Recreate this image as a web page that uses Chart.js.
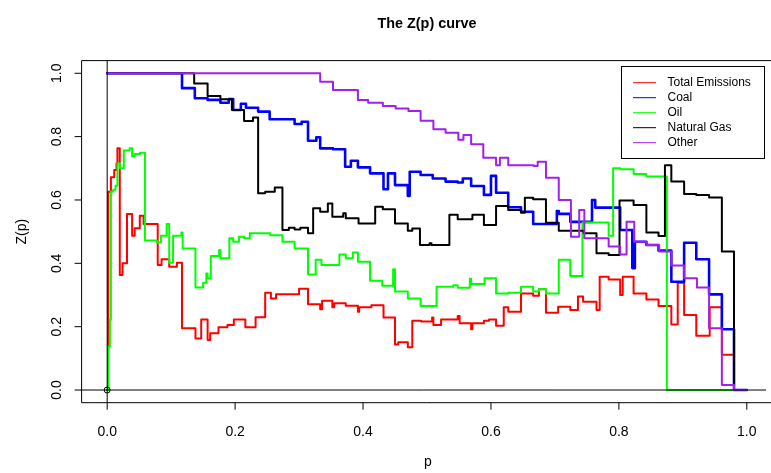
<!DOCTYPE html>
<html>
<head>
<meta charset="utf-8">
<title>The Z(p) curve</title>
<script src="https://cdn.jsdelivr.net/npm/chart.js@4/dist/chart.umd.min.js"></script>
<style>
  html, body { margin: 0; padding: 0; background: #fff; }
  #chart { display: block; }
</style>
</head>
<body>
<canvas id="chart" width="771" height="473"></canvas>
<script>
// Step curves: p where a step starts, Z(p) from there on
const seriesNames = ['Total Emissions', 'Coal', 'Oil', 'Natural Gas', 'Other'];

const totalP = [0, 0.0016, 0.0058, 0.011, 0.0146, 0.016, 0.0197, 0.024, 0.031, 0.039, 0.043, 0.051, 0.057, 0.079, 0.085, 0.097, 0.109, 0.117, 0.138, 0.147, 0.157, 0.161, 0.174, 0.188, 0.198, 0.216, 0.232, 0.247, 0.256, 0.264, 0.300, 0.314, 0.333, 0.336, 0.352, 0.355, 0.373, 0.392, 0.394, 0.413, 0.432, 0.450, 0.455, 0.470, 0.477, 0.491, 0.508, 0.510, 0.522, 0.548, 0.551, 0.569, 0.571, 0.589, 0.597, 0.608, 0.620, 0.627, 0.647, 0.666, 0.675, 0.686, 0.705, 0.724, 0.736, 0.744, 0.765, 0.770, 0.784, 0.802, 0.806, 0.823, 0.843, 0.862, 0.882, 0.892, 0.902, 0.921, 0.942, 0.961, 0.980, 1.0];
const totalZ = [0, 0.626, 0.672, 0.695, 0.716, 0.763, 0.363, 0.400, 0.556, 0.487, 0.511, 0.550, 0.524, 0.395, 0.413, 0.389, 0.402, 0.195, 0.163, 0.223, 0.158, 0.179, 0.198, 0.205, 0.223, 0.198, 0.230, 0.307, 0.289, 0.302, 0.320, 0.271, 0.255, 0.282, 0.261, 0.274, 0.266, 0.247, 0.261, 0.268, 0.229, 0.144, 0.151, 0.135, 0.219, 0.216, 0.229, 0.205, 0.223, 0.234, 0.211, 0.192, 0.211, 0.219, 0.223, 0.203, 0.261, 0.247, 0.305, 0.298, 0.318, 0.244, 0.263, 0.253, 0.295, 0.279, 0.253, 0.358, 0.349, 0.300, 0.358, 0.305, 0.286, 0.265, 0.207, 0.339, 0.237, 0.171, 0.261, 0.111, 0, 0];

const coalP = [0, 0.117, 0.137, 0.157, 0.177, 0.190, 0.197, 0.209, 0.217, 0.236, 0.254, 0.293, 0.304, 0.314, 0.327, 0.333, 0.353, 0.372, 0.381, 0.392, 0.411, 0.432, 0.439, 0.450, 0.470, 0.473, 0.490, 0.509, 0.529, 0.548, 0.556, 0.569, 0.589, 0.600, 0.608, 0.627, 0.647, 0.666, 0.703, 0.706, 0.724, 0.758, 0.763, 0.802, 0.821, 0.825, 0.843, 0.862, 0.882, 0.902, 0.921, 0.941, 0.961, 0.980, 1.0];
const coalZ = [1, 0.953, 0.921, 0.916, 0.907, 0.919, 0.884, 0.904, 0.891, 0.879, 0.855, 0.840, 0.847, 0.787, 0.798, 0.763, 0.760, 0.705, 0.724, 0.703, 0.684, 0.634, 0.684, 0.647, 0.613, 0.689, 0.679, 0.668, 0.658, 0.655, 0.668, 0.644, 0.616, 0.676, 0.623, 0.577, 0.563, 0.524, 0.565, 0.556, 0.531, 0.600, 0.576, 0.505, 0.385, 0.468, 0.458, 0.440, 0.342, 0.465, 0.413, 0.302, 0.192, 0, 0];

const oilP = [0, 0.0016, 0.0042, 0.0058, 0.0095, 0.013, 0.016, 0.020, 0.026, 0.035, 0.039, 0.043, 0.051, 0.059, 0.078, 0.084, 0.093, 0.097, 0.103, 0.116, 0.118, 0.138, 0.150, 0.155, 0.157, 0.162, 0.175, 0.177, 0.191, 0.197, 0.206, 0.214, 0.223, 0.255, 0.274, 0.293, 0.314, 0.326, 0.335, 0.363, 0.373, 0.384, 0.392, 0.411, 0.430, 0.447, 0.450, 0.470, 0.490, 0.515, 0.541, 0.548, 0.567, 0.569, 0.590, 0.608, 0.627, 0.647, 0.666, 0.675, 0.686, 0.706, 0.724, 0.743, 0.784, 0.791, 0.802, 0.823, 0.843, 0.875, 1.0];
const oilZ = [0, 0.137, 0.223, 0.626, 0.632, 0.645, 0.716, 0.700, 0.756, 0.763, 0.737, 0.745, 0.749, 0.472, 0.466, 0.487, 0.524, 0.402, 0.487, 0.497, 0.447, 0.324, 0.339, 0.368, 0.353, 0.423, 0.442, 0.416, 0.479, 0.468, 0.484, 0.479, 0.495, 0.489, 0.468, 0.447, 0.365, 0.411, 0.395, 0.428, 0.416, 0.434, 0.405, 0.345, 0.329, 0.381, 0.311, 0.289, 0.265, 0.326, 0.331, 0.323, 0.351, 0.335, 0.353, 0.305, 0.307, 0.326, 0.311, 0.319, 0.305, 0.411, 0.360, 0.529, 0.487, 0.700, 0.697, 0.682, 0.674, 0, 0];

const gasP = [0, 0.136, 0.157, 0.177, 0.195, 0.214, 0.228, 0.236, 0.247, 0.262, 0.274, 0.284, 0.293, 0.302, 0.314, 0.322, 0.333, 0.345, 0.352, 0.369, 0.373, 0.393, 0.419, 0.431, 0.450, 0.470, 0.477, 0.489, 0.504, 0.507, 0.535, 0.548, 0.571, 0.589, 0.608, 0.627, 0.647, 0.653, 0.666, 0.686, 0.706, 0.745, 0.765, 0.784, 0.801, 0.823, 0.843, 0.862, 0.872, 0.882, 0.902, 0.921, 0.941, 0.961, 0.980, 1.0];
const gasZ = [1, 0.968, 0.928, 0.918, 0.884, 0.849, 0.860, 0.621, 0.626, 0.639, 0.505, 0.512, 0.507, 0.512, 0.495, 0.574, 0.563, 0.589, 0.547, 0.558, 0.542, 0.526, 0.579, 0.571, 0.526, 0.503, 0.510, 0.458, 0.463, 0.458, 0.553, 0.539, 0.553, 0.521, 0.581, 0.568, 0.560, 0.607, 0.602, 0.528, 0.503, 0.495, 0.432, 0.426, 0.598, 0.584, 0.497, 0.486, 0.710, 0.658, 0.619, 0.616, 0.608, 0.437, 0, 0];

const otherP = [0, 0.333, 0.353, 0.392, 0.408, 0.431, 0.451, 0.471, 0.490, 0.510, 0.529, 0.549, 0.557, 0.569, 0.588, 0.608, 0.614, 0.627, 0.667, 0.673, 0.686, 0.706, 0.725, 0.738, 0.746, 0.784, 0.802, 0.812, 0.824, 0.843, 0.863, 0.882, 0.902, 0.922, 0.941, 0.961, 0.980, 1.0];
const otherZ = [1, 0.973, 0.947, 0.916, 0.907, 0.897, 0.889, 0.881, 0.850, 0.823, 0.812, 0.790, 0.805, 0.776, 0.733, 0.710, 0.733, 0.710, 0.707, 0.721, 0.670, 0.600, 0.484, 0.568, 0.479, 0.453, 0.428, 0.531, 0.468, 0.458, 0.437, 0.393, 0.353, 0.324, 0.195, 0.016, 0, 0];

const xTicks = [0, 0.2, 0.4, 0.6, 0.8, 1.0];
const yTicks = [0, 0.2, 0.4, 0.6, 0.8, 1.0];

function toPoints(ps, zs) {
    return ps.map((p, i) => ({ x: p, y: zs[i] }));
}

function stepLine(label, ps, zs, color, width, order) {
    return {
        label: label,
        data: toPoints(ps, zs),
        borderColor: color,
        backgroundColor: color,
        borderWidth: width,
        stepped: 'before',
        pointRadius: 0,
        fill: false,
        order: order,
        borderCapStyle: 'round',
        borderJoinStyle: 'round'
    };
}

const FONT = '"Liberation Sans", Arial, Helvetica, sans-serif';
const legendColors = ['#ff0000', '#0000ff', '#00ff00', '#000000', '#a020f0'];

// R style box, axes, titles and legend
const baseGraphics = {
    id: 'baseGraphics',
    afterDraw(chart) {
        const ctx = chart.ctx;
        const a = chart.chartArea;
        const xs = chart.scales.x;
        const ys = chart.scales.y;
        ctx.save();
        ctx.strokeStyle = '#000';
        ctx.fillStyle = '#000';
        ctx.lineWidth = 1;

        // box (right side runs off the canvas)
        ctx.beginPath();
        ctx.moveTo(chart.width + 5, a.top);
        ctx.lineTo(a.left, a.top);
        ctx.lineTo(a.left, a.bottom);
        ctx.lineTo(chart.width + 5, a.bottom);
        ctx.stroke();

        // x axis
        ctx.font = '14px ' + FONT;
        ctx.textAlign = 'center';
        ctx.textBaseline = 'middle';
        xTicks.forEach(t => {
            const px = xs.getPixelForValue(t);
            ctx.beginPath();
            ctx.moveTo(px, a.bottom);
            ctx.lineTo(px, a.bottom + 7);
            ctx.stroke();
            ctx.fillText(t.toFixed(1), px, 432);
        });

        // y axis
        yTicks.forEach(t => {
            const py = ys.getPixelForValue(t);
            ctx.beginPath();
            ctx.moveTo(a.left, py);
            ctx.lineTo(a.left - 7, py);
            ctx.stroke();
            ctx.save();
            ctx.translate(57, py);
            ctx.rotate(-Math.PI / 2);
            ctx.fillText(t.toFixed(1), 0, 0);
            ctx.restore();
        });

        // axis titles
        ctx.fillText('p', 428, 462);
        ctx.save();
        ctx.translate(22, (a.top + a.bottom) / 2);
        ctx.rotate(-Math.PI / 2);
        ctx.fillText('Z(p)', 0, 0);
        ctx.restore();

        // main title
        ctx.font = 'bold 14.4px ' + FONT;
        ctx.fillText('The Z(p) curve', 427, 24);

        // legend
        const lx = 621.5, ly = 66.5, lw = 143, lh = 92;
        ctx.fillStyle = '#fff';
        ctx.fillRect(lx, ly, lw, lh);
        ctx.strokeStyle = '#000';
        ctx.strokeRect(lx, ly, lw, lh);
        ctx.font = '12px ' + FONT;
        ctx.textAlign = 'left';
        seriesNames.forEach((name, i) => {
            const ry = 82.7 + i * 15;
            ctx.strokeStyle = legendColors[i];
            ctx.beginPath();
            ctx.moveTo(633, ry);
            ctx.lineTo(656, ry);
            ctx.stroke();
            ctx.fillStyle = '#000';
            ctx.fillText(name, 667.5, ry);
        });
        ctx.restore();
    }
};

const ctx = document.getElementById('chart').getContext('2d');
const chart = new Chart(ctx, {
    type: 'line',
    data: {
        datasets: [
            stepLine(seriesNames[0], totalP, totalZ, '#ff0000', 2, 6),
            stepLine(seriesNames[1], coalP, coalZ, '#0000ff', 2.6, 5),
            stepLine(seriesNames[2], oilP, oilZ, '#00ff00', 2, 4),
            stepLine(seriesNames[3], gasP, gasZ, '#000000', 2, 3),
            stepLine(seriesNames[4], otherP, otherZ, '#a020f0', 2, 2),
            {
                // abline(v = 0)
                data: [{ x: 0, y: -0.04 }, { x: 0, y: 1.04 }],
                borderColor: '#000', borderWidth: 1, pointRadius: 0, order: 1
            },
            {
                // abline(h = 0)
                data: [{ x: -0.04, y: 0 }, { x: 1.03, y: 0 }],
                borderColor: '#000', borderWidth: 1, pointRadius: 0, order: 1
            },
            {
                // the open point at the origin
                data: [{ x: 0, y: 0 }],
                showLine: false,
                pointRadius: 3,
                pointBorderWidth: 1,
                pointBorderColor: '#000',
                pointBackgroundColor: 'rgba(0,0,0,0)',
                order: 0
            }
        ]
    },
    options: {
        responsive: false,
        animation: false,
        devicePixelRatio: 1,
        layout: {
            padding: { left: 81.6, top: 60.6, right: 1, bottom: 70.3 }
        },
        scales: {
            x: { type: 'linear', min: -0.04, max: 1.03, display: false },
            y: { type: 'linear', min: -0.04, max: 1.04, display: false }
        },
        plugins: {
            legend: { display: false },
            tooltip: { enabled: false },
            title: { display: false }
        }
    },
    plugins: [baseGraphics]
});
</script>
</body>
</html>
